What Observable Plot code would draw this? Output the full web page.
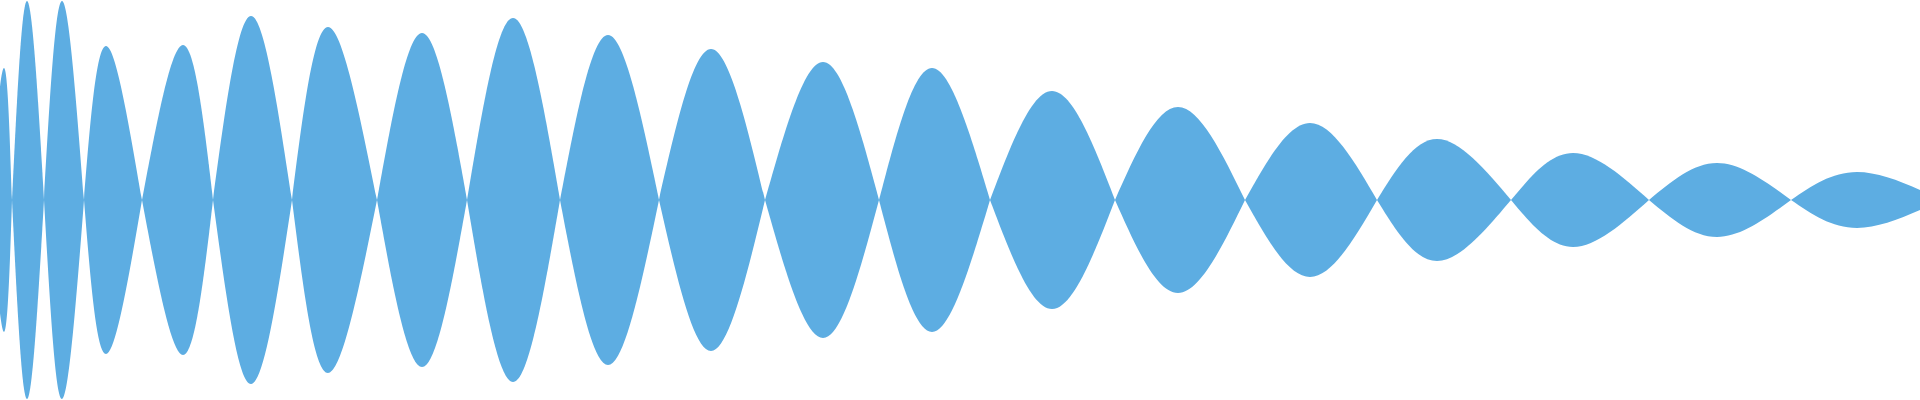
<!DOCTYPE html>
<html>
<head>
<meta charset="utf-8">
<script src="https://cdn.jsdelivr.net/npm/d3@7"></script>
<script src="https://cdn.jsdelivr.net/npm/@observablehq/plot@0.6"></script>
<style>
  html, body { margin: 0; padding: 0; background: #fff; }
  #chart svg { display: block; }
</style>
</head>
<body>
<div id="chart"></div>
<script>
// Zero crossings of the waveform (sample position)
const crossings = [-10, 12, 44, 84, 142, 213, 292, 377, 467, 560, 659, 765, 879, 990, 1115, 1245, 1377, 1511, 1649, 1791, 1942];
// Peak positions and normalised peak amplitudes, one per lobe
const peakTimes = [4, 27, 62, 106, 183, 251, 328, 422, 513, 608, 711, 823, 932, 1052, 1178, 1310, 1437, 1573, 1717, 1857];
const peakAmps = [0.66, 0.995, 0.995, 0.77, 0.775, 0.92, 0.865, 0.835, 0.91, 0.825, 0.755, 0.69, 0.66, 0.545, 0.465, 0.385, 0.305, 0.235, 0.185, 0.14];

// One series per lobe: zero crossing, peak, next zero crossing
const samples = [];
peakTimes.forEach((t, i) => {
  samples.push({lobe: i, t: crossings[i], v: 0});
  samples.push({lobe: i, t, v: peakAmps[i]});
  samples.push({lobe: i, t: crossings[i + 1], v: 0});
});

const chart = Plot.plot({
  width: 1920,
  height: 400,
  margin: 0,
  x: {domain: [0, 1920], axis: null},
  y: {domain: [-1, 1], axis: null},
  marks: [
    Plot.areaY(samples, {
      x: "t",
      y1: d => -d.v,
      y2: d => d.v,
      z: "lobe",
      curve: "natural",
      fill: "#5DADE2",
      clip: true
    })
  ]
});
document.getElementById("chart").appendChild(chart);
</script>
</body>
</html>
